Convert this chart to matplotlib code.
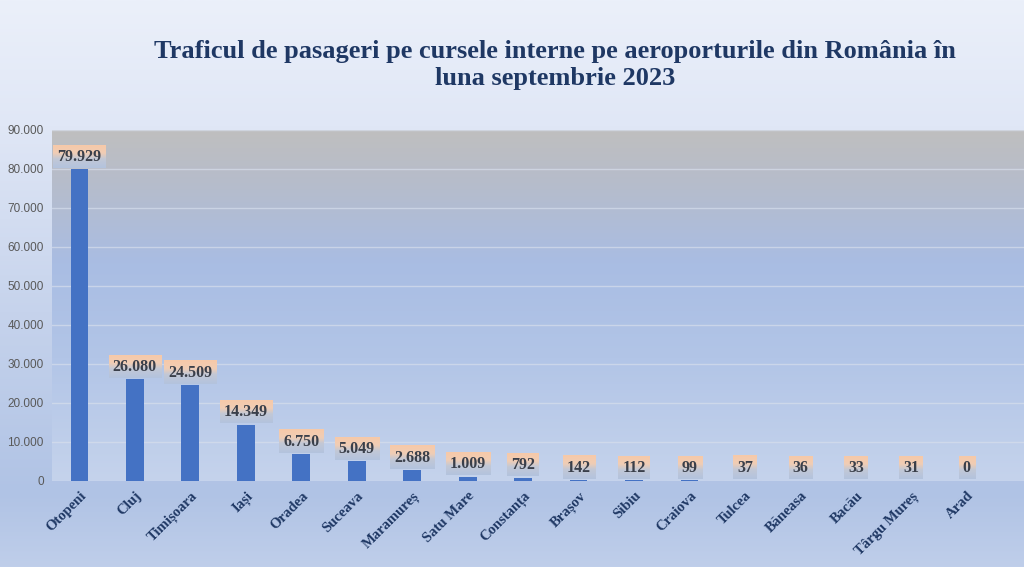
import numpy as np
import matplotlib.pyplot as plt
import matplotlib.colors as mcolors

# Data
airports = ['Otopeni', 'Cluj', 'Timișoara', 'Iași', 'Oradea', 'Suceava', 'Maramureș',
            'Satu Mare', 'Constanța', 'Brașov', 'Sibiu', 'Craiova', 'Tulcea', 'Băneasa',
            'Bacău', 'Târgu Mureș', 'Arad']
passengers = [79929, 26080, 24509, 14349, 6750, 5049, 2688, 1009, 792, 142, 112, 99,
              37, 36, 33, 31, 0]
y_ticks = list(range(0, 90001, 10000))

title = 'Traficul de pasageri pe cursele interne pe aeroporturile din România în\nluna septembrie 2023'


def fmt(v):
    return f'{v:,}'.replace(',', '.')


fig = plt.figure(figsize=(10.24, 5.67), dpi=100)

# Figure background gradient
bg = fig.add_axes([0, 0, 1, 1], zorder=-10)
bg_cmap = mcolors.LinearSegmentedColormap.from_list(
    'bg', [(0.0, '#BFCEEA'), (0.13, '#B0C3E5'), (0.45, '#C6D3EC'),
           (0.78, '#E0E7F6'), (1.0, '#EBF0FA')])
bg.imshow(np.linspace(0, 1, 256).reshape(-1, 1), cmap=bg_cmap, aspect='auto',
          origin='lower', extent=[0, 1, 0, 1])
bg.axis('off')

ax = fig.add_axes([0.051, 0.152, 0.949, 0.619])
x = np.arange(len(airports))
xlim = (-0.49, len(airports) + 0.03)
ax.set_xlim(*xlim)
ax.set_ylim(0, 90000)

# Plot area gradient
pa_cmap = mcolors.LinearSegmentedColormap.from_list(
    'pa', [(0.0, '#C5D3EC'), (0.35, '#B2C5E7'), (0.62, '#A9BDE3'),
           (0.85, '#B6BCCB'), (1.0, '#BFBFBF')])
ax.imshow(np.linspace(0, 1, 256).reshape(-1, 1), cmap=pa_cmap, aspect='auto',
          origin='lower', extent=[xlim[0], xlim[1], 0, 90000], zorder=0)

for t in y_ticks[1:]:
    ax.axhline(t, color='#D6DEEC', lw=1.0, alpha=0.7, zorder=1)

ax.bar(x, passengers, width=0.32, color='#4472C4', zorder=2)

for s in ax.spines.values():
    s.set_visible(False)

ax.set_yticks(y_ticks)
ax.set_yticklabels([fmt(t) for t in y_ticks], fontsize=8.5, color='#595959',
                   family='Liberation Sans')
ax.tick_params(axis='both', length=0)
ax.tick_params(axis='y', pad=6)
ax.set_xticks(x)
ax.set_xticklabels(airports, rotation=45, ha='right', rotation_mode='anchor',
                   fontsize=10.5, fontweight='bold', family='Liberation Serif',
                   color='#1F3864')
ax.tick_params(axis='x', pad=6)

labels = []
for i, v in enumerate(passengers):
    t = ax.annotate(fmt(v), (i, v), xytext=(0, 9), textcoords='offset points',
                    ha='center', va='center', fontsize=11.5, fontweight='bold',
                    family='Liberation Serif', color='#3A3F4A', zorder=5)
    labels.append(t)

fig.text(0.542, 0.885, title, ha='center', va='center', fontsize=19,
         fontweight='bold', family='Liberation Serif', color='#1F3864',
         linespacing=1.2)

# Gradient boxes behind data labels
fig.canvas.draw()
renderer = fig.canvas.get_renderer()
box_cmap = mcolors.LinearSegmentedColormap.from_list(
    'box', [(0.0, '#B3C3DE'), (0.4, '#C2C8D6'), (0.65, '#F0CDB5'), (1.0, '#F7C9A9')])
inv = ax.transData.inverted()
for t in labels:
    bb = t.get_window_extent(renderer)
    x0, y0 = inv.transform((bb.x0 - 4, bb.y0 - 3))
    x1, y1 = inv.transform((bb.x1 + 4, bb.y1 + 4))
    ax.imshow(np.linspace(0, 1, 64).reshape(-1, 1), cmap=box_cmap, aspect='auto',
              origin='lower', extent=[x0, x1, y0, y1], zorder=4)
ax.set_xlim(*xlim)
ax.set_ylim(0, 90000)

fig.savefig('out.png', dpi=100)
